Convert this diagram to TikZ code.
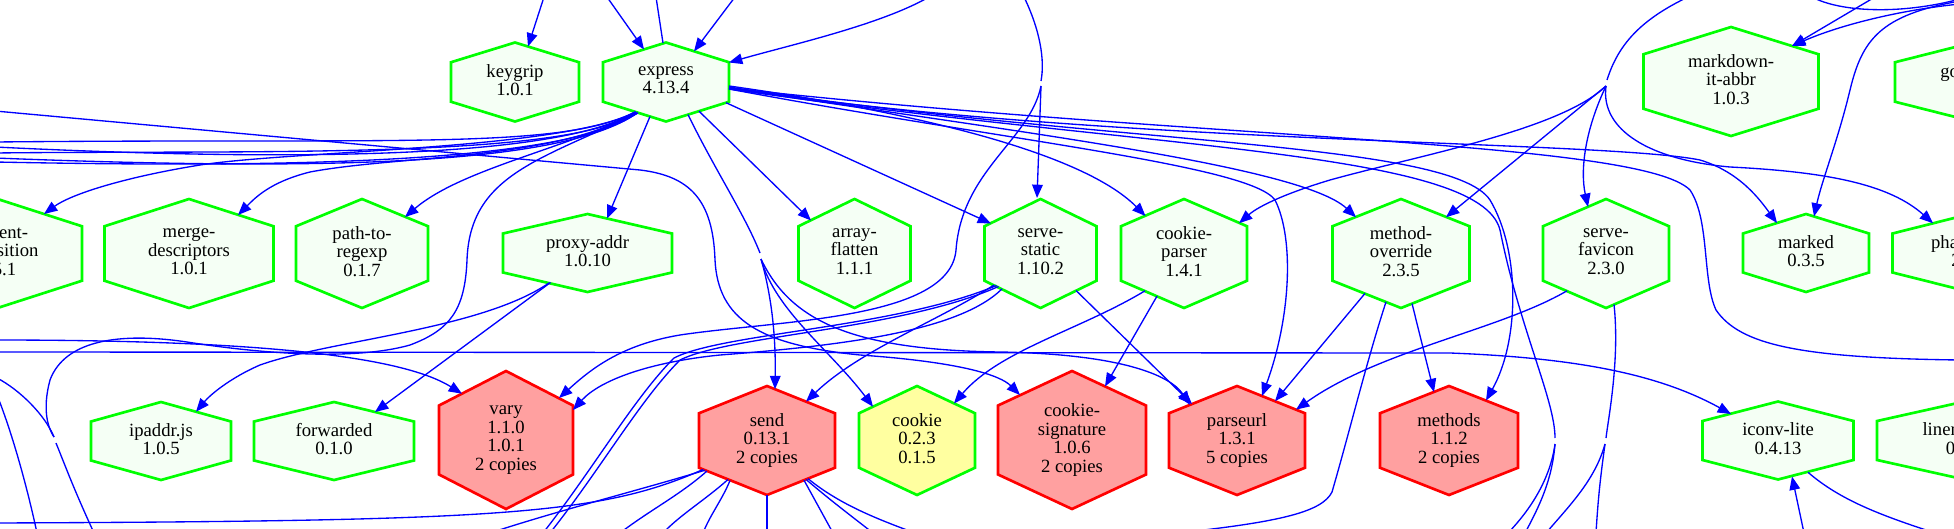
\documentclass[tikz,border=0pt]{standalone}
\usepackage{fontspec}
\setmainfont{Liberation Serif}
\usetikzlibrary{arrows.meta}
\definecolor{gline}{RGB}{0,255,0}
\definecolor{gfill}{RGB}{245,255,245}
\definecolor{rline}{RGB}{255,0,0}
\definecolor{rfill}{RGB}{255,160,160}
\definecolor{yfill}{RGB}{255,255,160}
\definecolor{eblue}{RGB}{0,0,255}
\tikzset{
 hg/.style={draw=gline,fill=gfill,line width=2pt,line join=miter},
 hr/.style={draw=rline,fill=rfill,line width=2pt,line join=miter},
 hy/.style={draw=gline,fill=yfill,line width=2pt,line join=miter},
 lbl/.style={align=center,inner sep=0pt,font=\fontsize{14}{13.8}\selectfont,
   execute at begin node={\rule{0pt}{12.6pt}},
   execute at end node={\rule[-3pt]{0pt}{3pt}}},
 e/.style={draw=eblue,line width=1pt},
 ea/.style={e,-{Triangle[length=10pt,width=8pt]}},
}
% #1 name, #2 x, #3 y, #4 half width, #5 half height, #6 style, #7 text
\newcommand\hexn[7]{%
  \filldraw[#6] (#2,#3-#5) -- (#2+#4,#3-#5/2) -- (#2+#4,#3+#5/2) -- (#2,#3+#5)
     -- (#2-#4,#3+#5/2) -- (#2-#4,#3-#5/2) -- cycle;
  \node[lbl] (#1) at (#2,#3) {#7};}
\begin{document}
\begin{tikzpicture}[x=0.75pt,y=-0.75pt]
\useasboundingbox (0,0) rectangle (1954,528);
\fill[white] (0,0) rectangle (1954,528);
\clip (0,0) rectangle (1954,528);

% ---------- nodes ----------
\hexn{keygrip}{515}{82}{64}{39.5}{hg}{keygrip\\1.0.1}
\hexn{express}{666}{82}{63}{39.5}{hg}{express\\4.13.4}
\hexn{mdabbr}{1731}{81.5}{87.5}{54.5}{hg}{markdown-\\it-abbr\\1.0.3}
\hexn{gonode}{1973}{82}{78}{39.5}{hg}{gonzales\\1.0.0}
\hexn{contentdisp}{-2.5}{253.5}{84.5}{54.5}{hg}{content-\\disposition\\0.5.1}
\hexn{mergedesc}{189}{253.5}{84.5}{54.5}{hg}{merge-\\descriptors\\1.0.1}
\hexn{pathtore}{362}{253.5}{66}{54.5}{hg}{path-to-\\regexp\\0.1.7}
\hexn{proxyaddr}{587.5}{253}{84.5}{39}{hg}{proxy-addr\\1.0.10}
\hexn{arrayflat}{854.5}{253.5}{56}{54.5}{hg}{array-\\flatten\\1.1.1}
\hexn{servestatic}{1040.5}{253.5}{56}{54.5}{hg}{serve-\\static\\1.10.2}
\hexn{cookieparser}{1184}{253.5}{63}{54.5}{hg}{cookie-\\parser\\1.4.1}
\hexn{methodov}{1401}{253.5}{68.5}{54.5}{hg}{method-\\override\\2.3.5}
\hexn{servefav}{1606}{253.5}{63}{54.5}{hg}{serve-\\favicon\\2.3.0}
\hexn{marked}{1806}{253}{63}{39}{hg}{marked\\0.3.5}
\hexn{phantom}{1970}{253}{77.5}{39}{hg}{phantomjs\\2.1.7}
\hexn{ipaddr}{161}{441}{70}{39}{hg}{ipaddr.js\\1.0.5}
\hexn{forwarded}{334}{441}{80}{39}{hg}{forwarded\\0.1.0}
\hexn{vary}{506}{440}{67}{69}{hr}{vary\\1.1.0\\1.0.1\\2 copies}
\hexn{send}{767}{440.5}{68}{54.5}{hr}{send\\0.13.1\\2 copies}
\hexn{cookie}{917}{440.5}{58}{54.5}{hy}{cookie\\0.2.3\\0.1.5}
\hexn{cookiesig}{1072}{440}{74}{69}{hr}{cookie-\\signature\\1.0.6\\2 copies}
\hexn{parseurl}{1237}{440.5}{68}{54.5}{hr}{parseurl\\1.3.1\\5 copies}
\hexn{methods}{1449}{440.5}{69}{54.5}{hr}{methods\\1.1.2\\2 copies}
\hexn{iconv}{1778}{440.5}{75.5}{39}{hg}{iconv-lite\\0.4.13}
\hexn{liner}{1964.5}{440.5}{87.5}{39}{hg}{linerstream\\0.1.4}

% ---------- free ends ----------
\coordinate (t1) at (544,-3);
\coordinate (t2) at (607,-3);
\coordinate (t3) at (656,-3);
\coordinate (t4) at (735,-3);
\coordinate (t5) at (929,-3);
\coordinate (t6) at (1024,-3);
\coordinate (t7) at (1688,-3);
\coordinate (t8) at (1875,-3);
\coordinate (t9) at (1960,4);
\coordinate (t10) at (1812,-3);
\coordinate (t11) at (1960,-1);
\coordinate (t12) at (1960,1);
\coordinate (f1a) at (1041,81);
\coordinate (f1b) at (1041,86);
\coordinate (f2a) at (1607,80);
\coordinate (f2b) at (1606,86);
\coordinate (l1) at (-5,142);
\coordinate (l2) at (-5,147);
\coordinate (l3) at (-5,153);
\coordinate (l4) at (-5,158);
\coordinate (l5) at (-5,162);
\coordinate (l6) at (-3,378);
\coordinate (l7) at (-3,395);
\coordinate (l9) at (-5,111);
\coordinate (v0) at (-5,340);
\coordinate (h0) at (-5,352);
\coordinate (r1) at (1960,360);
\coordinate (g1) at (54,437);
\coordinate (g2) at (56,443);
\coordinate (g3) at (1555,438);
\coordinate (g4) at (1555,444);
\coordinate (g5) at (760,253);
\coordinate (g6) at (761,259);
\coordinate (g7) at (1606,438);
\coordinate (g8) at (1605,444);
\coordinate (b1) at (94,533);
\coordinate (b2) at (37,533);
\coordinate (b3) at (550,533);
\coordinate (b4) at (543,533);
\coordinate (b5) at (1177,533);
\coordinate (b6) at (1596,533);
\coordinate (b7) at (1546,533);
\coordinate (b8) at (1804,533);
\coordinate (b9) at (1935,533);
\coordinate (b10) at (-5,523);
\coordinate (b11) at (490,533);
\coordinate (b12) at (620,533);
\coordinate (b13) at (703,533);
\coordinate (b14) at (663,533);
\coordinate (b15) at (767,533);
\coordinate (b16) at (833,533);
\coordinate (b17) at (873,533);
\coordinate (b18) at (915,533);
\coordinate (b19) at (1525,533);
\coordinate (b20) at (1508,533);

% ---------- edges: top ----------
\draw[ea] (t1) -- ([shift={(13,-35.5)}]keygrip.center);
\draw[ea] (t2) -- ([shift={(-22,-32.6)}]express.center);
\draw[e] ([shift={(-3,-39)}]express.center) -- (t3);
\draw[ea] (t4) -- ([shift={(28,-30.7)}]express.center);
\draw[ea] (t5) .. controls (880,25) and (790,45) .. ([shift={(63,-19.5)}]express.center);

% fan at serve-static
\draw[e] (t6) .. controls (1040,30) and (1045,60) .. (f1a);
\draw[ea] (f1b) -- ([shift={(-3.5,-55.5)}]servestatic.center);
\draw[ea] (f1b) .. controls (1030,140) and (962,170) .. (956,250) .. controls (950,320) and (780,320) .. (680,335) .. controls (620,345) and (590,370) .. ([shift={(53,-42)}]vary.center);

% express fan to the left
\draw[ea] ([shift={(-30,30)}]express.center) .. controls (560,150) and (300,150) .. (200,165) .. controls (120,178) and (70,195) .. ([shift={(46.5,-39.5)}]contentdisp.center);
\draw[ea] ([shift={(-30,30)}]express.center) .. controls (560,160) and (400,155) .. (310,172) .. controls (270,182) and (255,198) .. ([shift={(49,-38.5)}]mergedesc.center);
\draw[ea] ([shift={(-28,31)}]express.center) .. controls (560,150) and (460,170) .. ([shift={(43,-36.5)}]pathtore.center);
\draw[e] ([shift={(-31,30)}]express.center) .. controls (560,150) and (400,138) .. (l1);
\draw[e] ([shift={(-31,30)}]express.center) .. controls (560,158) and (300,162) .. (l2);
\draw[e] ([shift={(-30,30)}]express.center) .. controls (570,160) and (250,150) .. (l3);
\draw[e] ([shift={(-29,31)}]express.center) .. controls (560,168) and (300,170) .. (l4);
\draw[e] ([shift={(-29,31)}]express.center) .. controls (560,170) and (200,166) .. (l5);
\draw[ea] (l9) -- (640,170) .. controls (690,176) and (713,200) .. (715,260) .. controls (718,320) and (760,345) .. (860,355) .. controls (960,362) and (1000,375) .. ([shift={(-52,-45)}]cookiesig.center);

% express downwards
\draw[ea] ([shift={(-16,34.5)}]express.center) -- ([shift={(19.5,-34.5)}]proxyaddr.center);
\draw[e] ([shift={(-28,31)}]express.center) .. controls (540,160) and (470,175) .. (467,260) .. controls (465,310) and (450,330) .. (410,345) .. controls (350,362) and (250,352) .. (187,342) .. controls (120,332) and (65,340) .. (50,380) .. controls (42,410) and (48,428) .. (g1);
\draw[e] (g2) .. controls (65,465) and (72,485) .. (b1);
\draw[e] (l6) .. controls (20,390) and (45,415) .. (g1);
\draw[e] (l7) .. controls (15,440) and (30,500) .. (b2);
\draw[ea] ([shift={(33,29.2)}]express.center) -- ([shift={(-43.5,-33)}]arrayflat.center);
\draw[ea] ([shift={(60,20.7)}]express.center) -- ([shift={(-49.5,-30)}]servestatic.center);
\draw[ea] ([shift={(63,4)}]express.center) .. controls (900,110) and (1080,150) .. ([shift={(-38.5,-37.5)}]cookieparser.center);
\draw[ea] ([shift={(63,6)}]express.center) .. controls (1000,130) and (1300,165) .. ([shift={(-45,-36.3)}]methodov.center);
\draw[ea] ([shift={(63,7)}]express.center) .. controls (1000,140) and (1250,165) .. (1275,200) .. controls (1295,240) and (1290,320) .. ([shift={(25,-44.5)}]parseurl.center);
\draw[ea] ([shift={(63,6)}]express.center) .. controls (1100,145) and (1600,140) .. (1700,160) .. controls (1740,172) and (1760,200) .. ([shift={(-29,-30)}]marked.center);
\draw[e] ([shift={(63,6)}]express.center) .. controls (1200,140) and (1640,140) .. (1690,190) .. controls (1710,220) and (1702,280) .. (1716,310) .. controls (1740,345) and (1800,358) .. (r1);
\draw[ea] ([shift={(63,5)}]express.center) .. controls (1100,145) and (1450,140) .. (1490,200) .. controls (1520,250) and (1520,340) .. ([shift={(37,-40)}]methods.center);
\draw[e] ([shift={(63,7)}]express.center) .. controls (1150,150) and (1480,150) .. (1500,230) .. controls (1520,330) and (1555,400) .. (g3);
\draw[e] (g4) .. controls (1552,480) and (1540,505) .. (b19);
\draw[e] (g4) .. controls (1550,480) and (1530,510) .. (b20);
\draw[e] ([shift={(22,32.6)}]express.center) .. controls (715,170) and (745,215) .. (g5);
\draw[ea] (g6) .. controls (770,290) and (776,330) .. ([shift={(8,-51.3)}]send.center);
\draw[ea] (g6) .. controls (775,310) and (830,350) .. ([shift={(-44,-33.8)}]cookie.center);
\draw[ea] (g6) .. controls (790,320) and (850,350) .. (1000,352) .. controls (1120,354) and (1170,375) .. ([shift={(-47,-35.7)}]parseurl.center);

% fan on the right
\draw[e] (t7) .. controls (1640,20) and (1618,45) .. (f2a);
\draw[ea] (f2b) .. controls (1560,130) and (1420,155) .. (1330,180) .. controls (1290,192) and (1260,205) .. ([shift={(55,-30.3)}]cookieparser.center);
\draw[ea] (f2b) -- ([shift={(45,-36.3)}]methodov.center);
\draw[ea] (f2b) .. controls (1585,130) and (1580,170) .. ([shift={(-18,-46.6)}]servefav.center);
\draw[ea] (f2b) .. controls (1600,130) and (1650,160) .. (1730,167) .. controls (1830,172) and (1890,185) .. ([shift={(-37,-29.75)}]phantom.center);

% top right
\draw[ea] (t8) -- ([shift={(61,-35.5)}]mdabbr.center);
\draw[ea] (t9) .. controls (1900,10) and (1840,25) .. ([shift={(61,-35.5)}]mdabbr.center);
\draw[e] (t10) .. controls (1840,12) and (1900,15) .. (t11);
\draw[ea] (t12) .. controls (1880,15) and (1862,40) .. (1850,90) .. controls (1838,140) and (1822,180) .. ([shift={(8,-36.5)}]marked.center);

% middle row to bottom row
\draw[ea] ([shift={(-38.5,30)}]proxyaddr.center) .. controls (480,330) and (330,340) .. (260,365) .. controls (230,378) and (210,395) .. ([shift={(35,-29.25)}]ipaddr.center);
\draw[ea] ([shift={(-37,29.5)}]proxyaddr.center) -- ([shift={(41,-29)}]forwarded.center);
\draw[ea] (v0) .. controls (250,340) and (400,355) .. ([shift={(-44,-46.3)}]vary.center);
\draw[ea] (h0) -- (1450,353) .. controls (1580,358) and (1660,375) .. ([shift={(-47,-26.5)}]iconv.center);

\draw[ea] ([shift={(-46.5,31.5)}]servestatic.center) .. controls (940,320) and (860,350) .. ([shift={(39,-38.9)}]send.center);
\draw[ea] ([shift={(-38.5,35.4)}]servestatic.center) .. controls (960,330) and (850,345) .. (720,355) .. controls (650,362) and (600,380) .. ([shift={(67,-30)}]vary.center);
\draw[e] ([shift={(-42,33)}]servestatic.center) .. controls (900,330) and (730,335) .. (680,360) .. controls (640,400) and (600,470) .. (b3);
\draw[e] ([shift={(-44,32)}]servestatic.center) .. controls (895,328) and (722,333) .. (674,358) .. controls (634,398) and (594,468) .. (b4);
\draw[ea] ([shift={(35.5,37)}]servestatic.center) -- ([shift={(-45,-36.5)}]parseurl.center);

\draw[ea] ([shift={(-39,37.3)}]cookieparser.center) .. controls (1080,330) and (1000,350) .. ([shift={(37,-37.1)}]cookie.center);
\draw[ea] ([shift={(-27,42.6)}]cookieparser.center) -- ([shift={(33,-53.6)}]cookiesig.center);

\draw[ea] ([shift={(-36,39.9)}]methodov.center) -- ([shift={(38,-39.3)}]parseurl.center);
\draw[ea] ([shift={(11,50)}]methodov.center) -- ([shift={(-15,-48.4)}]methods.center);
\draw[e] ([shift={(-15,48.4)}]methodov.center) .. controls (1367,360) and (1350,430) .. (1332,492) .. controls (1322,512) and (1280,522) .. (b5);

\draw[ea] ([shift={(-39,37.3)}]servefav.center) .. controls (1500,330) and (1380,350) .. ([shift={(59,-30.9)}]parseurl.center);
\draw[e] ([shift={(8,51)}]servefav.center) .. controls (1620,360) and (1608,420) .. (g7);
\draw[e] (g8) .. controls (1600,480) and (1598,500) .. (b6);
\draw[e] (g8) .. controls (1595,480) and (1570,505) .. (b7);

\draw[ea] (b8) -- ([shift={(14,36)}]iconv.center);
\draw[e] ([shift={(30,31.8)}]iconv.center) .. controls (1840,500) and (1880,515) .. (b9);

% send downwards
\draw[e] ([shift={(-64,29)}]send.center) .. controls (600,515) and (500,521) .. (b10);
\draw[e] ([shift={(-62,29.7)}]send.center) .. controls (640,490) and (560,510) .. (b11);
\draw[e] ([shift={(-60,30.5)}]send.center) .. controls (680,495) and (650,510) .. (b12);
\draw[e] ([shift={(-37,40)}]send.center) .. controls (722,500) and (710,515) .. (b13);
\draw[e] ([shift={(-39,39)}]send.center) .. controls (705,500) and (680,515) .. (b14);
\draw[e] ([shift={(0,54.5)}]send.center) -- (b15);
\draw[e] ([shift={(37,39.7)}]send.center) -- (b16);
\draw[e] ([shift={(39,38.9)}]send.center) .. controls (830,500) and (850,515) .. (b17);
\draw[e] ([shift={(41,38.1)}]send.center) .. controls (840,505) and (880,520) .. (b18);
\end{tikzpicture}
\end{document}
